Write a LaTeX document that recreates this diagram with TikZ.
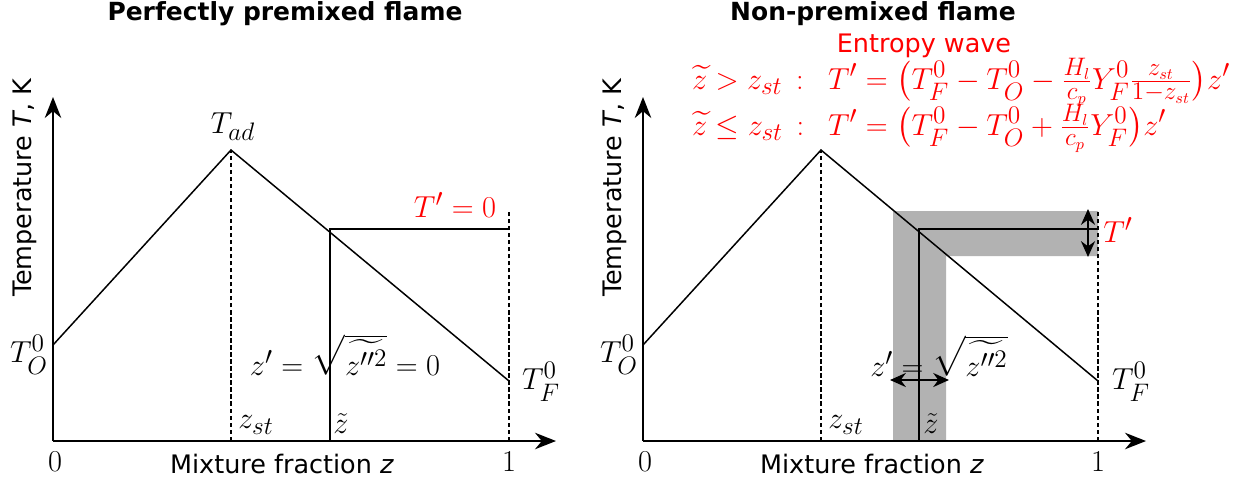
\documentclass[tikz,border=0pt]{standalone}
\usepackage{amsmath,amssymb}
\usepackage{fontspec}
\setsansfont{DejaVu Sans}
\usetikzlibrary{arrows.meta,positioning}

\begin{document}
\begin{tikzpicture}[
    x=0.02cm, y=-0.02cm,
    >=Stealth,
    axis/.style={
        -{Stealth[length=0.42cm, width=0.33cm]}, line width=1pt
    },
    profile/.style={line width=0.85pt},
    guide/.style={dash pattern=on 2.5pt off 1.5pt, line width=0.7pt},
    band/.style={fill=black!30, draw=none},
    spread/.style={
        {Stealth[length=9pt, width=8pt]}-{Stealth[length=9pt, width=8pt]},
        line width=1.2pt
    },
    mlabel/.style={font=\fontsize{19}{22}\selectfont, inner sep=1pt},
    elabel/.style={font=\fontsize{19}{22}\selectfont, inner sep=1pt,
        text=red, anchor=base west},
    slabel/.style={font=\sffamily\fontsize{14.5}{17}\selectfont, inner sep=1pt},
    ptitle/.style={font=\sffamily\bfseries\fontsize{14.2}{17}\selectfont},
]
\useasboundingbox (0,0) rectangle (1253,481);

% ── Perfectly premixed ──
\node[ptitle] (titleP) at (285,14) {Perfectly premixed flame};

\coordinate (oP) at (53,441);
\coordinate (xendP) at (556,441);
\coordinate (yendP) at (53,97);
\coordinate (oxP) at (53,345);
\coordinate (peakP) at (231,150);
\coordinate (fuelP) at (509,381);
\coordinate (stP) at (231,441);
\coordinate (oneP) at (509,441);
\coordinate (onetopP) at (509,211);
\coordinate (meanP) at (330,441);
\coordinate (crossP) at (330,229);
\coordinate (flatP) at (509,229);

\draw[axis] (oP) -- (xendP);
\draw[axis] (oP) -- (yendP);
\draw[guide] (stP) -- (peakP);
\draw[guide] (oneP) -- (onetopP);
\draw[profile] (oxP) -- (peakP) -- (fuelP);
\draw[profile] (meanP) -- (crossP) -- (flatP);

\node[mlabel] (toxP) at (29,355) {$T_O^0$};
\node[mlabel] (tadP) at (233,127) {$T_{ad}$};
\node[mlabel] (tfuP) at (541,382) {$T_F^0$};
\node[mlabel] (zstP) at (256,425) {$z_{st}$};
\node[mlabel] (ztP) at (341,424) {$\tilde{z}$};
\node[mlabel] (zeroP) at (55,462) {$0$};
\node[mlabel] (unitP) at (509,462) {$1$};
\node[mlabel] (varP) at (345,355) {$z' = \sqrt{\widetilde{z''^2}} = 0$};
\node[mlabel, text=red] (tzeroP) at (455,205) {$T' = 0$};
\node[slabel] (xlabP) at (282,464) {Mixture fraction \textit{z}};
\node[slabel, rotate=90] (ylabP) at (25,188) {Temperature \textit{T}, K};

% ── Non-premixed ──
\node[ptitle] (titleN) at (873,14) {Non-premixed flame};

\coordinate (oN) at (643,441);
\coordinate (xendN) at (1146,441);
\coordinate (yendN) at (643,97);
\coordinate (oxN) at (643,345);
\coordinate (peakN) at (821,150);
\coordinate (fuelN) at (1098,381);
\coordinate (stN) at (821,441);
\coordinate (oneN) at (1098,441);
\coordinate (onetopN) at (1098,211);
\coordinate (meanN) at (919,441);
\coordinate (crossN) at (919,229);
\coordinate (flatN) at (1098,229);

% grey fluctuation band
\fill[band] (893,211) -- (1098,211) -- (1098,256) -- (946,256)
    -- (946,441) -- (893,441) -- cycle;

\draw[axis] (oN) -- (xendN);
\draw[axis] (oN) -- (yendN);
\draw[guide] (stN) -- (peakN);
\draw[guide] (oneN) -- (onetopN);
\draw[profile] (oxN) -- (peakN) -- (fuelN);
\draw[profile] (meanN) -- (crossN) -- (flatN);

\coordinate (tupN) at (1088,209);
\coordinate (tdownN) at (1088,257);
\coordinate (zleftN) at (890,380);
\coordinate (zrightN) at (949,380);
\draw[spread] (tupN) -- (tdownN);
\draw[spread] (zleftN) -- (zrightN);

\node[mlabel] (toxN) at (619,355) {$T_O^0$};
\node[mlabel] (tfuN) at (1131,382) {$T_F^0$};
\node[mlabel] (zstN) at (846,425) {$z_{st}$};
\node[mlabel] (ztN) at (931,424) {$\tilde{z}$};
\node[mlabel] (zeroN) at (645,462) {$0$};
\node[mlabel] (unitN) at (1098,462) {$1$};
\node[mlabel] (varN) at (939,356) {$z' = \sqrt{\widetilde{z''^2}}$};
\node[mlabel, text=red] (tflucN) at (1118,230) {$T'$};
\node[slabel] (xlabN) at (872,464) {Mixture fraction \textit{z}};
\node[slabel, rotate=90] (ylabN) at (615,188) {Temperature \textit{T}, K};

% ── Entropy wave ──
\node[slabel, text=red] (waveN) at (924,46) {Entropy wave};
\node[elabel] (condA) at (690,89) {$\widetilde{z} > z_{st}\,:$};
\node[elabel] (eqA) at (826,89)
    {$T' = \bigl(T_F^0 - T_O^0 - \frac{H_l}{c_p} Y_F^0 \frac{z_{st}}{1-z_{st}}\bigr) z'$};
\node[elabel] (condB) at (690,135) {$\widetilde{z} \leq z_{st}\,:$};
\node[elabel] (eqB) at (826,135)
    {$T' = \bigl(T_F^0 - T_O^0 + \frac{H_l}{c_p} Y_F^0\bigr) z'$};

\end{tikzpicture}
\end{document}
